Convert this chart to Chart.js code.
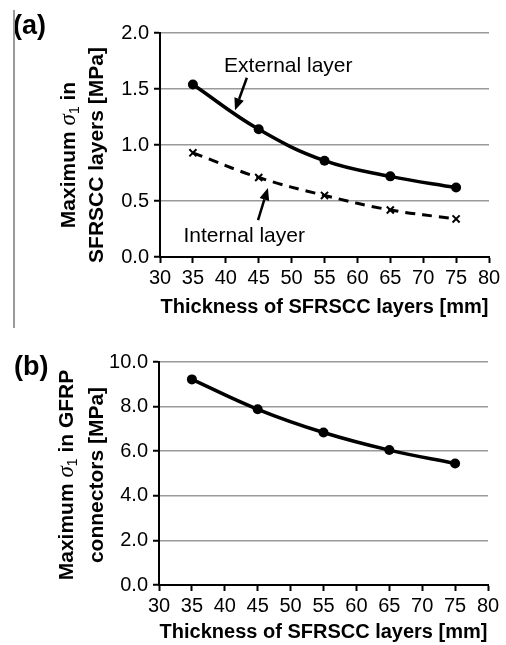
<!DOCTYPE html>
<html>
<head>
<meta charset="utf-8">
<script src="https://cdn.jsdelivr.net/npm/chart.js@4.4.0/dist/chart.umd.min.js"></script>
<style>
  html, body { margin: 0; padding: 0; background: #fff; }
  #page { position: relative; width: 506px; height: 645px; }
  #rule { position: absolute; left: 13px; top: 10px; width: 2px; height: 318px; background: #9a9a9a; }
  #wrapA { position: absolute; left: 0; top: 0; width: 506px; height: 330px; }
  #wrapB { position: absolute; left: 0; top: 330px; width: 506px; height: 315px; }
</style>
</head>
<body>
<div id="page">
  <div id="wrapA"><canvas id="chartA" width="506" height="330"></canvas></div>
  <div id="wrapB"><canvas id="chartB" width="506" height="315"></canvas></div>
  <div id="rule"></div>
</div>
<script>
// values
const thickness = [35, 45, 55, 65, 75];
const externalLayer = [1.54, 1.14, 0.86, 0.72, 0.62];
const internalLayer = [0.93, 0.71, 0.55, 0.42, 0.34];
const gfrpConnectors = [9.22, 7.88, 6.84, 6.05, 5.45];

const xTitle = "Thickness of SFRSCC layers [mm]";
const yTitleA = ["SFRSCC layers [MPa]"];
const yTitleB = ["connectors [MPa]"];

const FONT = "'Liberation Sans', Arial, sans-serif";
Chart.defaults.font.family = FONT;
Chart.defaults.color = "#000";

function pts(values) {
  return thickness.map((x, i) => ({ x: x, y: values[i] }));
}

// "Maximum σ1 in ..." with italic sigma and subscript
function sigmaLine(rest) {
  return [
    { t: "Maximum ", f: "bold 21px " + FONT },
    { t: "σ", f: "italic 23px 'Liberation Serif', serif" },
    { t: "1", f: "14px " + FONT, dy: 4 },
    { t: " in" + rest, f: "bold 21px " + FONT },
  ];
}

function drawRich(ctx, segs, y) {
  let total = 0;
  segs.forEach((s) => { ctx.font = s.f; total += ctx.measureText(s.t).width; });
  let x = -total / 2;
  segs.forEach((s) => {
    ctx.font = s.f;
    ctx.fillText(s.t, x, y + (s.dy || 0));
    x += ctx.measureText(s.t).width;
  });
}

function drawArrow(ctx, x1, y1, x2, y2) {
  const ang = Math.atan2(y2 - y1, x2 - x1);
  const head = 12, half = 5;
  const bx = x2 - head * Math.cos(ang), by = y2 - head * Math.sin(ang);
  ctx.lineWidth = 2.5;
  ctx.beginPath();
  ctx.moveTo(x1, y1);
  ctx.lineTo(bx, by);
  ctx.stroke();
  ctx.beginPath();
  ctx.moveTo(x2, y2);
  ctx.lineTo(bx + half * Math.sin(ang), by - half * Math.cos(ang));
  ctx.lineTo(bx - half * Math.sin(ang), by + half * Math.cos(ang));
  ctx.closePath();
  ctx.fill();
}

const extras = {
  id: "extras",
  afterDraw(chart, args, opts) {
    const ctx = chart.ctx;
    const xs = chart.scales.x, ys = chart.scales.y;
    ctx.save();
    ctx.fillStyle = "#000";
    ctx.strokeStyle = "#000";
    ctx.textBaseline = "alphabetic";

    ctx.textAlign = "left";
    ctx.font = "bold 27px " + FONT;
    ctx.fillText(opts.letter, opts.letterX, opts.letterY);

    // y axis title, two lines
    ctx.save();
    ctx.translate(opts.yTitleX, opts.yTitleY);
    ctx.rotate(-Math.PI / 2);
    opts.yTitle.forEach((segs, i) => drawRich(ctx, segs, i * opts.yTitleGap));
    ctx.restore();

    ctx.textAlign = "center";
    ctx.font = "21px " + FONT;
    (opts.notes || []).forEach((n) => {
      ctx.fillText(n.text, xs.getPixelForValue(n.x), ys.getPixelForValue(n.y));
    });
    (opts.arrows || []).forEach((a) => {
      drawArrow(ctx,
        xs.getPixelForValue(a.from[0]), ys.getPixelForValue(a.from[1]),
        xs.getPixelForValue(a.to[0]), ys.getPixelForValue(a.to[1]));
    });
    ctx.restore();
  },
};

function makeChart(id, datasets, yMax, yStep, xHeight, yWidth, padding, extraOpts) {
  return new Chart(document.getElementById(id), {
    type: "line",
    data: { datasets: datasets },
    plugins: [extras],
    options: {
      responsive: false,
      animation: false,
      layout: { padding: padding },
      plugins: { legend: { display: false }, tooltip: { enabled: false }, extras: extraOpts },
      scales: {
        x: {
          type: "linear",
          min: 30,
          max: 80,
          afterFit: (s) => { s.height = xHeight; },
          ticks: { stepSize: 5, font: { size: 20 }, color: "#000", padding: 3, maxRotation: 0 },
          grid: { drawOnChartArea: false, tickLength: 6, tickColor: "#000", tickWidth: 2 },
          border: { color: "#000", width: 2 },
          title: { display: true, text: xTitle, font: { size: 20, weight: "bold" }, color: "#000", padding: 0 },
        },
        y: {
          min: 0,
          max: yMax,
          afterFit: (s) => { s.width = yWidth; },
          ticks: { stepSize: yStep, font: { size: 20 }, color: "#000", padding: 5, callback: (v) => v.toFixed(1) },
          grid: { color: "#9a9a9a", lineWidth: 1.5, tickLength: 6, tickColor: "#000", tickWidth: 2 },
          border: { color: "#000", width: 2 },
        },
      },
    },
  });
}

makeChart("chartA", [
  {
    label: "External layer",
    data: pts(externalLayer),
    borderColor: "#000",
    borderWidth: 3.5,
    tension: 0.4,
    pointRadius: 5,
    pointBackgroundColor: "#000",
    pointBorderWidth: 0,
  },
  {
    label: "Internal layer",
    data: pts(internalLayer),
    borderColor: "#000",
    borderWidth: 3,
    borderDash: [10, 7],
    tension: 0.4,
    pointStyle: "crossRot",
    pointRadius: 5,
    pointBorderWidth: 2,
    pointBorderColor: "#000",
  },
], 2, 0.5, 62, 160, { left: 0, top: 33, right: 17, bottom: 11 }, {
  letter: "(a)", letterX: 13, letterY: 34,
  yTitle: [sigmaLine(""), [{ t: yTitleA[0], f: "bold 21px " + FONT }]],
  yTitleX: 75, yTitleY: 155, yTitleGap: 28,
  notes: [
    { text: "External layer", x: 49.5, y: 1.65 },
    { text: "Internal layer", x: 42.8, y: 0.134 },
  ],
  arrows: [
    { from: [43.2, 1.60], to: [41.4, 1.31] },
    { from: [44.9, 0.33], to: [46.4, 0.616] },
  ],
});

makeChart("chartB", [
  {
    label: "GFRP connectors",
    data: pts(gfrpConnectors),
    borderColor: "#000",
    borderWidth: 3.5,
    tension: 0.4,
    pointRadius: 5,
    pointBackgroundColor: "#000",
    pointBorderWidth: 0,
  },
], 10, 2, 59, 159, { left: 0, top: 32, right: 18, bottom: 1 }, {
  letter: "(b)", letterX: 14, letterY: 45,
  yTitle: [sigmaLine(" GFRP"), [{ t: yTitleB[0], f: "bold 21px " + FONT }]],
  yTitleX: 73, yTitleY: 145, yTitleGap: 30,
});
</script>
</body>
</html>
